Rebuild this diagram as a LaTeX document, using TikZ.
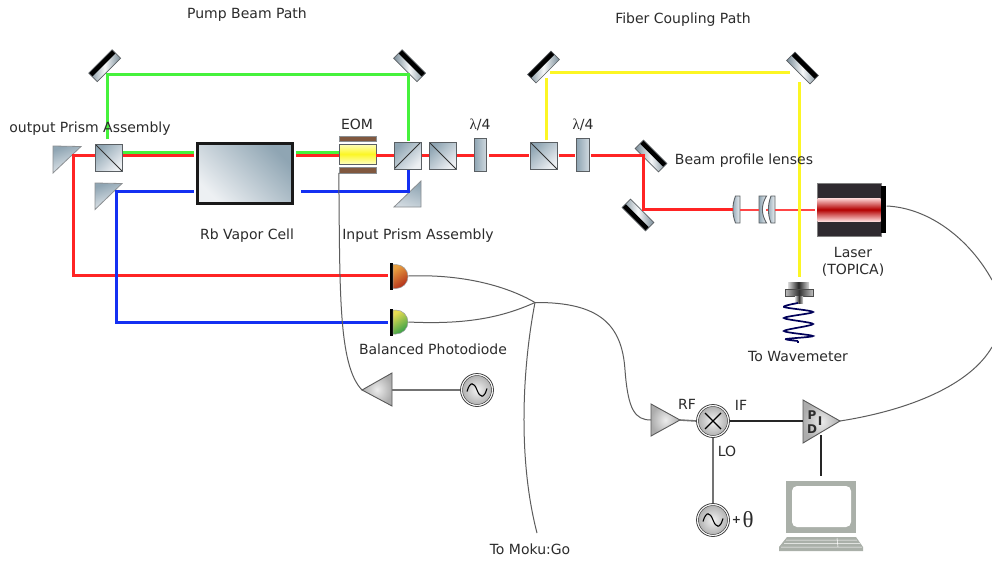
\documentclass[tikz,border=0pt]{standalone}
\usepackage{fontspec}
\setmainfont{DejaVu Sans}
\newfontfamily\lamfont{Liberation Serif}
\usetikzlibrary{calc}
\definecolor{rbeam}{HTML}{FF2424}
\definecolor{gbeam}{HTML}{46F23C}
\definecolor{bbeam}{HTML}{1430F2}
\definecolor{ybeam}{HTML}{FCF624}
\definecolor{gdark}{HTML}{8FA5B3}
\definecolor{glight}{HTML}{EDF0F3}
\definecolor{edgec}{HTML}{5A5F63}
\definecolor{txt}{HTML}{2B2B2B}
\definecolor{wirec}{HTML}{5C5C5C}
\definecolor{brownbar}{HTML}{80583F}
\definecolor{laserbody}{HTML}{2F2A30}
\definecolor{pcgrey}{HTML}{AAB0A9}
\definecolor{pdAtop}{HTML}{E8A040}
\definecolor{pdAbot}{HTML}{B02A18}
\definecolor{pdBtop}{HTML}{E8DC50}
\definecolor{pdBbot}{HTML}{2E9E48}
\tikzset{
  lab/.style={font=\fontsize{14}{17}\selectfont, text=txt, inner sep=0pt, align=center},
  beamr/.style={draw=rbeam, line width=3pt},
  beamthin/.style={draw=rbeam!85!white, line width=1.6pt},
  beamg/.style={draw=gbeam, line width=3pt},
  beamb/.style={draw=bbeam, line width=3pt},
  beamy/.style={draw=ybeam, line width=3pt},
  wire/.style={draw=wirec, line width=1pt},
  greyline/.style={draw=gray!90!black, line width=1.6pt},
  blackline/.style={draw=black!85, line width=1.6pt},
  glass/.style={draw=edgec, line width=1pt, top color=gdark, bottom color=glight, shading angle=45},
  cubeA/.style={glass, inner sep=0pt, minimum width=27pt, minimum height=27pt,
    path picture={\draw[black!80, line width=0.9pt] (path picture bounding box.north west) -- (path picture bounding box.south east);}},
  cubeB/.style={glass, inner sep=0pt, minimum width=27pt, minimum height=27pt,
    path picture={\draw[black!80, line width=0.9pt] (path picture bounding box.south west) -- (path picture bounding box.north east);}},
  plate/.style={draw=edgec, line width=1pt, inner sep=0pt, minimum width=12.5pt, minimum height=33pt,
    left color=gdark, right color=glight!70!gdark},
  prism/.style={draw=edgec!70, line width=0.8pt, top color=gdark, bottom color=glight, shading angle=20},
  ampshape/.style={draw=gray!70!black, line width=0.9pt, inner color=gray!15, outer color=gray!65},
  srcnode/.style={circle, draw=black!75, line width=0.8pt, fill=white, inner sep=0pt, minimum size=33pt},
  sinesrc/.style={srcnode, path picture={
    \begin{scope}[shift={(path picture bounding box.center)}]
      \shade[inner color=gray!10, outer color=gray!60] (0,0) circle (14.5);
      \draw[black!75, line width=0.5pt] (0,0) circle (14.5);
      \draw[black, line width=1.1pt] (-10,1.5) .. controls (-7,-9) and (-3,-8) .. (0,0) .. controls (3,8) and (7,9) .. (10,-1.5);
    \end{scope}}},
  mixnode/.style={srcnode, path picture={
    \begin{scope}[shift={(path picture bounding box.center)}]
      \shade[inner color=gray!10, outer color=gray!60] (0,0) circle (14.5);
      \draw[black!75, line width=0.5pt] (0,0) circle (14.5);
      \draw[black, line width=1.1pt] (-8,-8) -- (8,8) (-8,8) -- (8,-8);
    \end{scope}}},
  barnode/.style={fill=black, inner sep=0pt, minimum width=3.2pt, minimum height=27pt},
  lensshape/.style={draw=edgec, line width=0.9pt, left color=gdark, right color=glight},
}
\newcommand{\mirrorat}[3]{%
  \begin{scope}[shift={#1},rotate=#2]
    \coordinate (#3) at (0,0);
    \shade[left color=gdark!85!black, right color=gdark!85!black, middle color=white!92!gdark] (-16.5,-6) rectangle (16.5,6);
    \fill[black] (-16.5,-6) rectangle (16.5,-1);
    \draw[edgec, line width=0.7pt] (-16.5,-6) rectangle (16.5,6);
  \end{scope}}
\begin{document}
\begin{tikzpicture}[x=1pt,y=-1pt]
\useasboundingbox (0,0) rectangle (992,560);
\clip (0,0) rectangle (992,560);
\fill[white] (0,0) rectangle (992,560);

% levels used by the beams
\coordinate (rl) at (0,155.3);
\coordinate (gl) at (0,152.7);
\coordinate (bl) at (0,191.3);
\coordinate (lasl) at (0,209.7);

% optical components
\node[cubeA] (bs1) at (108.5,157.5) {};
\node[glass, line width=2.6pt, draw=black!90, inner sep=0pt, minimum width=95pt, minimum height=60pt, shading angle=-45] (cell) at (245,173.5) {};
\node[cubeB] (bs2) at (407.5,155.5) {};
\node[cubeA] (bs3) at (442.5,155.5) {};
\node[plate] (wp1) at (480.5,154.5) {};
\node[cubeA] (bs4) at (543.5,155.5) {};
\node[plate] (wp2) at (583,154.8) {};
\node[draw=edgec, line width=0.8pt, inner sep=0pt, minimum width=37pt, minimum height=20pt, top color=white!75!yellow, bottom color=white!75!yellow, middle color=ybeam] (eom) at (357.5,154) {};
\node[draw=edgec!70, fill=brownbar, inner sep=0pt, minimum width=37pt, minimum height=5.5pt] (eomtop) at (357.5,138.8) {};
\node[draw=edgec!70, fill=brownbar, inner sep=0pt, minimum width=37pt, minimum height=5.5pt] (eombot) at (357.5,170) {};

\mirrorat{(104.7,65.7)}{45}{m1}
\mirrorat{(409.5,65.7)}{-45}{m2}
\mirrorat{(543.5,67)}{45}{m3}
\mirrorat{(802.5,68)}{-45}{m4}
\mirrorat{(651,156)}{-45}{m5}
\mirrorat{(638,215)}{135}{m6}

% prisms
\path[prism] (53,146) -- (81,146.5) -- (53,173) -- cycle;
\path[prism] (95,183) -- (122,183.5) -- (95,209.5) -- cycle;
\path[prism, top color=gdark, bottom color=glight!70!gdark, shading angle=-20] (394,207) -- (421,207) -- (421,181) -- cycle;

% lenses
\coordinate (l1a) at (733,209.7);
\coordinate (l1b) at (740,209.7);
\coordinate (l2a) at (759,209.7);
\coordinate (l3b) at (775,209.7);
\path[lensshape] (740,196) -- (735.5,196) .. controls (732,205) and (732,214) .. (735.5,223) -- (740,223) -- cycle;
\path[lensshape] (759,196) -- (766.5,196) .. controls (761,205) and (761,214) .. (766.5,223) -- (759,223) -- cycle;
\path[lensshape] (775,196) -- (771,196) .. controls (767.5,205) and (767.5,214) .. (771,223) -- (775,223) -- cycle;

% laser
\node[fill=laserbody, draw=gray, line width=0.5pt, inner sep=0pt, minimum width=64pt, minimum height=53pt] (laser) at (849,209.5) {};
\shade[top color=white!85!red, bottom color=white!85!red, middle color=red!70!black] (817.5,198) rectangle (880.5,221);
\node[fill=black, inner sep=0pt, minimum width=5.5pt, minimum height=47pt] (lascap) at (883.7,209.5) {};

% beams: green
\coordinate (g1) at (107,139);
\coordinate (g2) at (107,74.7);
\coordinate (g3) at (408,74.7);
\coordinate (g4) at (408,140.5);
\draw[beamg] (g1) -- (g2) -- (g3) -- (g4);
\draw[beamg] (bs1.east|-gl) -- ([xshift=-2pt]cell.west|-gl);
\draw[beamg] ([xshift=2pt]cell.east|-gl) -- (eom.west|-gl);

% beams: red
\coordinate (r1) at (73,155.3);
\coordinate (r2) at (73,275.3);
\coordinate (r3) at (643,155.3);
\coordinate (r4) at (643,209.7);
\node[barnode] (pd1bar) at (391.5,276.5) {};
\node[barnode] (pd2bar) at (391.5,322) {};
\draw[beamr] ([xshift=-2pt]pd1bar.west|-r2) -- (r2) -- (r1) -- (bs1.west|-rl);
\draw[beamr] (bs1.east|-rl) -- ([xshift=-2pt]cell.west|-rl);
\draw[beamr] ([xshift=2pt]cell.east|-rl) -- (eom.west|-rl);
\draw[beamr] (eom.east|-rl) -- (bs2.west|-rl);
\draw[beamr] (bs2.east|-rl) -- (bs3.west|-rl);
\draw[beamr] (bs3.east|-rl) -- (wp1.west|-rl);
\draw[beamr] ([xshift=2pt]wp1.east|-rl) -- ([xshift=-1pt]bs4.west|-rl);
\draw[beamr] ([xshift=1pt]bs4.east|-rl) -- ([xshift=-1pt]wp2.west|-rl);
\draw[beamr] ([xshift=1pt]wp2.east|-rl) -- (r3) -- (r4) -- (l1a);
\draw[beamthin] (l1b) -- (l2a);
\draw[beamthin] (l3b) -- ([xshift=-2pt]laser.west|-lasl);
\draw[beamthin] (766,209.7) -- (768,209.7);

% beams: blue
\coordinate (b1) at (116,191.3);
\coordinate (b2) at (116,322);
\coordinate (b3) at (408,191.3);
\coordinate (b4) at (408,170);
\draw[beamb] ([xshift=-2pt]pd2bar.west|-b2) -- (b2) -- (b1) -- ([xshift=-2pt]cell.west|-bl);
\draw[beamb] ([xshift=7pt]cell.east|-bl) -- (b3) -- (b4);

% beams: yellow
\coordinate (y1) at (546,140);
\coordinate (y2) at (546,78);
\coordinate (y3) at (550,72.3);
\coordinate (y4) at (790,72.3);
\coordinate (y5) at (799,82);
\coordinate (y6) at (799,277);
\draw[beamy] (y1) -- (y2);
\draw[beamy] (y3) -- (y4);
\draw[beamy] (y5) -- (y6);

% fibre connector
\shade[left color=gray!30, right color=gray!30, middle color=black!85] (788,282) rectangle (809,289);
\shade[draw=black!70, line width=0.5pt, left color=gray!50, right color=gray!50, middle color=black!80] (785,289) rectangle (813,296);
\shade[left color=gray!30, right color=gray!30, middle color=black!80] (795,296) rectangle (803,303);
\draw[draw=blue!35!black, line width=1.7pt] plot[smooth] coordinates {(798,303) (784,307) (813,312) (784,318) (813,324) (784,331) (813,336) (786,339) (798,341)};
\draw[draw=blue!35!black, line width=1.5pt] (798,341) -- (798,343);

% photodiodes
\path[draw=edgec!60, line width=0.5pt, top color=pdAtop, bottom color=pdAbot, shading angle=35]
  (393,264.5) -- (396,264.5) .. controls (402.6,264.5) and (408,269.9) .. (408,276.5) .. controls (408,283.1) and (402.6,288.5) .. (396,288.5) -- (393,288.5) -- cycle;
\path[draw=edgec!60, line width=0.5pt, top color=pdBtop, bottom color=pdBbot, shading angle=35]
  (393,310) -- (396,310) .. controls (402.6,310) and (408,315.4) .. (408,322) .. controls (408,328.6) and (402.6,334) .. (396,334) -- (393,334) -- cycle;
\coordinate (pd1out) at (408.5,276);
\coordinate (pd2out) at (408.5,322);

% electronics
\coordinate (junction) at (535,302.5);
\coordinate (a1tip) at (362,390);
\coordinate (a1base) at (392,390);
\coordinate (a2base) at (651,420);
\coordinate (a2tip) at (680,420);
\coordinate (pidbase) at (803,421);
\coordinate (pidtip) at (840,421);
\coordinate (pidbot) at (821,435);
\coordinate (pcin) at (821,476);
\coordinate (wireMoku) at (537,533);
\coordinate (wireLaserEnd) at (992,280);
\coordinate (wireLaserStart) at (992,347);
\node[sinesrc] (s1) at (477,390) {};
\node[sinesrc] (s2) at (713,520) {};
\node[mixnode] (mix) at (713,421) {};
\path[ampshape] (362,390) -- (392,373) -- (392,406) -- cycle;
\path[ampshape] (651,404) -- (680,420) -- (651,436) -- cycle;
\path[ampshape] (803,400) -- (840,421) -- (803,443) -- cycle;
\draw[greyline] (a1base) -- (s1.west);
\draw[greyline] (a2tip) -- (mix.west);
\draw[greyline] (mix.south) -- (s2.north);
\draw[blackline] (mix.east) -- (pidbase);
\draw[blackline] (pidbot) -- (pcin);

% wires
\draw[wire] (pd1out) .. controls (460,274) and (505,285) .. (junction);
\draw[wire] (pd2out) .. controls (470,325) and (505,316) .. (junction);
\draw[wire] (junction) .. controls (600,302) and (622,325) .. (625,370) .. controls (628,410) and (635,420) .. (a2base);
\draw[wire] (junction) .. controls (522,370) and (518,460) .. (wireMoku);
\draw[wire] (eombot.south west) .. controls (340,290) and (338,365) .. (a1tip);
\draw[wire] (lascap.east|-0,206) .. controls (930,208) and (970,240) .. (wireLaserEnd);
\draw[wire] (wireLaserStart) .. controls (970,385) and (910,410) .. (pidtip);

% computer
\node[fill=pcgrey, inner sep=0pt, minimum width=70pt, minimum height=52pt] (pc) at (821,507) {};
\fill[white, rounded corners=5pt] (792,486) rectangle (851,527);
\fill[pcgrey] (787,537) -- (856,537) -- (863,547) -- (863,551) -- (779,551) -- (779,547) -- cycle;
\draw[white, line width=0.5pt] (786,540) -- (857,540) (784,543.5) -- (860,543.5) (781,547) -- (862,547) (837,538) -- (838,547);

% labels
\node[lab] (t1) at (247,15) {Pump Beam Path};
\node[lab] (t2) at (683,20) {Fiber Coupling Path};
\node[lab] (t3) at (90,129) {output Prism Assembly};
\node[lab] (t4) at (357,124) {EOM};
\node[lab] (t5) at (247,235.5) {Rb Vapor Cell};
\node[lab] (t6) at (418,235.5) {Input Prism Assembly};
\node[lab] (t7) at (480,125) {{\lamfont\fontsize{15}{15}\selectfont λ}/4};
\node[lab] (t8) at (583,125) {{\lamfont\fontsize{15}{15}\selectfont λ}/4};
\node[lab] (t9) at (744,161) {Beam profile lenses};
\node[lab] (t10) at (853,262) {Laser\\(TOPICA)};
\node[lab] (t11) at (798,356) {To Wavemeter};
\node[lab] (t12) at (433,349) {Balanced Photodiode};
\node[lab] (t13) at (530,549) {To Moku:Go};
\node[lab] (t14) at (687,404.5) {RF};
\node[lab] (t15) at (741,405.5) {IF};
\node[lab] (t16) at (727,451.5) {LO};
\node[lab, font=\bfseries\fontsize{11}{11}\selectfont] (t17) at (736.5,520) {+};
\node[lab, font=\lamfont\fontsize{23}{23}\selectfont] (t18) at (748,520) {θ};
\node[lab, font=\bfseries\fontsize{12}{12}\selectfont] (t19) at (812,415) {P};
\node[lab, font=\bfseries\fontsize{12}{12}\selectfont] (t20) at (812,429) {D};
\node[lab, font=\bfseries\fontsize{12}{12}\selectfont] (t21) at (820,421) {I};
\end{tikzpicture}
\end{document}
